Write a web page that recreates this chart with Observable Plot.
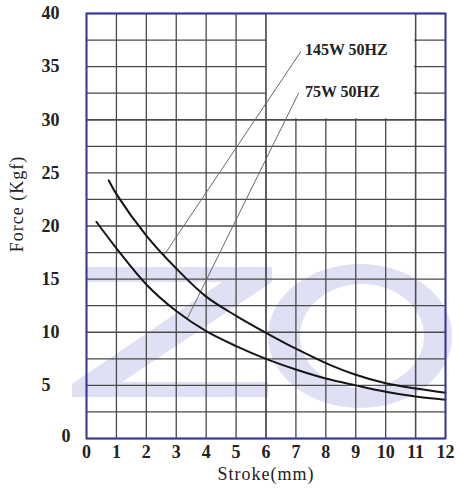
<!DOCTYPE html>
<html>
<head>
<meta charset="utf-8">
<script src="https://cdn.jsdelivr.net/npm/d3@7"></script>
<script src="https://cdn.jsdelivr.net/npm/@observablehq/plot@0.6"></script>
<style>
  html, body { margin: 0; padding: 0; background: #fff; }
  #chart svg { display: block; }
</style>
</head>
<body>
<div id="chart"></div>
<script>
// Data
const stroke145 = [0.74, 1, 2, 3, 4, 5, 6, 7, 8, 9, 10, 11, 12];
const force145  = [24.3, 23.0, 19.1, 16.0, 13.35, 11.55, 9.95, 8.45, 7.1, 6.0, 5.2, 4.7, 4.3];
const stroke75  = [0.33, 1, 2, 3, 4, 5, 6, 7, 8, 9, 10, 11, 12];
const force75   = [20.4, 17.9, 14.5, 12.0, 10.1, 8.7, 7.5, 6.5, 5.65, 5.0, 4.4, 3.95, 3.65];

const seriesNames = ["145W 50HZ", "75W 50HZ"];
const labelStroke = [7.3, 7.3];
const labelForce  = [36.6, 32.6];
// leader lines: from label to the curve
const leaderStroke = [[7.16, 2.58], [7.09, 3.37]];
const leaderForce  = [[36.4, 17.2], [32.5, 11.3]];

const xTicks = [0, 1, 2, 3, 4, 5, 6, 7, 8, 9, 10, 11, 12];
const yTicks = [5, 10, 15, 20, 25, 30, 35, 40];
const yGrid  = d3.range(0, 40.01, 2.5);
const legendBox = [{x1: 6, x2: 11, y1: 30, y2: 40}];

const curves = [
  ...stroke145.map((s, i) => ({series: seriesNames[0], stroke: s, force: force145[i]})),
  ...stroke75.map((s, i) => ({series: seriesNames[1], stroke: s, force: force75[i]}))
];
const labels = seriesNames.map((n, i) => ({name: n, stroke: labelStroke[i], force: labelForce[i]}));
const leaders = seriesNames.flatMap((n, i) =>
  leaderStroke[i].map((s, j) => ({series: n, stroke: s, force: leaderForce[i][j]})));

const serif = "'Liberation Serif', 'DejaVu Serif', serif";
const gridColor = "#4a4a4a";
const frameColor = "#3b3b9c";

const chart = Plot.plot({
  width: 460,
  height: 494,
  marginLeft: 86,
  marginRight: 15,
  marginTop: 13,
  marginBottom: 56,
  style: {fontFamily: serif, background: "#fff"},
  x: {domain: [0, 12], label: null},
  y: {domain: [0, 40], label: null},
  marks: [
    Plot.ruleX(xTicks, {stroke: gridColor, strokeWidth: 1.3}),
    Plot.ruleY(yGrid, {stroke: gridColor, strokeWidth: 1.3}),
    Plot.rect(legendBox, {x1: "x1", x2: "x2", y1: "y1", y2: "y2", fill: "#fff", inset: 1}),
    Plot.ruleX([6, 11], {stroke: gridColor, strokeWidth: 1.3}),
    Plot.ruleY([30], {stroke: gridColor, strokeWidth: 1.3}),
    Plot.line(leaders, {x: "stroke", y: "force", z: "series", stroke: "#6a6a6a", strokeWidth: 1}),
    Plot.line(curves, {x: "stroke", y: "force", z: "series", stroke: "#161616", strokeWidth: 2, curve: "catmull-rom"}),
    Plot.frame({stroke: frameColor, strokeWidth: 2}),
    Plot.text(labels, {x: "stroke", y: "force", text: "name", textAnchor: "start", fontSize: 16, fontWeight: "bold", fill: "#222", fontFamily: serif}),
    Plot.axisX(xTicks, {tickSize: 0, tickPadding: 7, fontSize: 18, fontWeight: "bold", fill: "#222", label: null}),
    Plot.axisY(yTicks, {tickSize: 0, textAnchor: "start", dx: -36, fontSize: 18, fontWeight: "bold", fill: "#222", label: null}),
    Plot.axisY([0], {tickSize: 0, textAnchor: "start", dx: -16, dy: -2, fontSize: 18, fontWeight: "bold", fill: "#222", label: null}),
    Plot.text(["Force (Kgf)"], {frameAnchor: "left", textAnchor: "middle", rotate: -90, dx: -69, dy: -22, fontSize: 18, fill: "#222", fontFamily: serif}),
    Plot.text(["Stroke(mm)"], {frameAnchor: "bottom", textAnchor: "middle", dy: 41, fontSize: 18, fill: "#222", fontFamily: serif})
  ]
});

// faint background watermark shapes (as in the reference image), drawn under the chart
const svg = d3.select(chart);
const wm = svg.insert("g", ":first-child").attr("aria-hidden", "true").attr("fill", "#e0e0f4");
wm.append("path")
  .attr("d", "M86,267 L272,267 L272,282 L122,382 L268,382 L268,397 L72,397 L72,384 L222,282 L86,282 Z");
wm.append("path")
  .attr("fill-rule", "evenodd")
  .attr("d", [
    "M268,336 A92,72 0 1,0 452,336 A92,72 0 1,0 268,336 Z",
    "M300,336 A62,52 0 1,0 424,336 A62,52 0 1,0 300,336 Z"
  ].join(" "));

// slightly wider letter spacing for the axis titles, as in the reference
svg.selectAll("text").filter(function() { return this.textContent === "Force (Kgf)" || this.textContent === "Stroke(mm)"; })
  .attr("letter-spacing", 1);

document.getElementById("chart").append(chart);
</script>
</body>
</html>
